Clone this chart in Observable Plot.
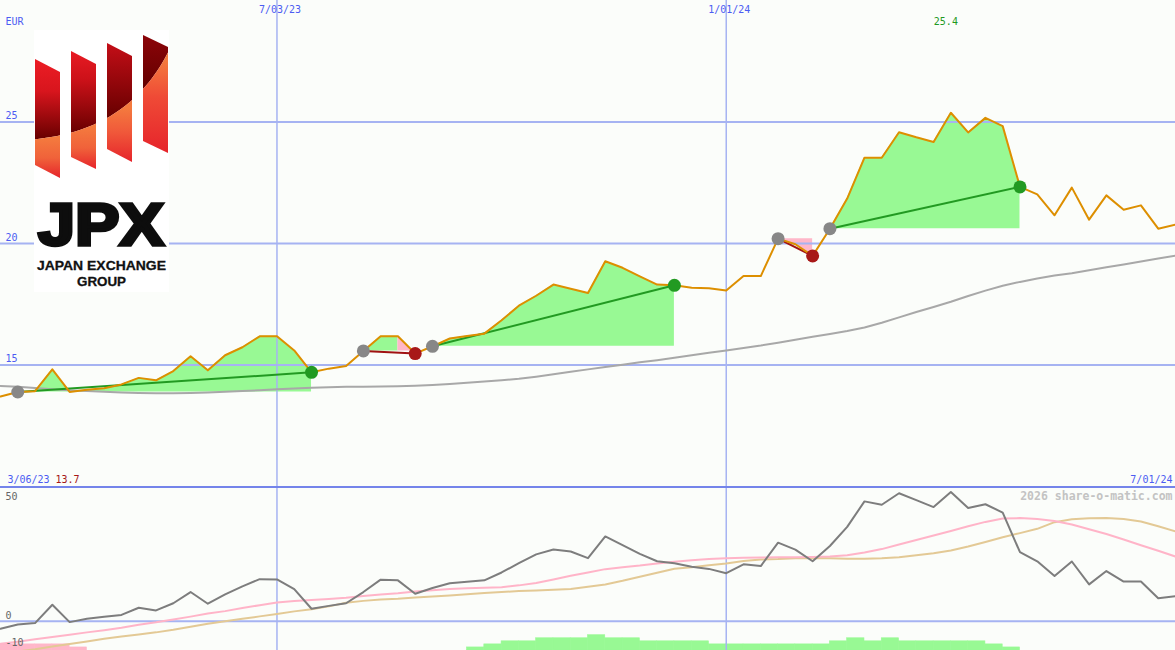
<!DOCTYPE html>
<html><head><meta charset="utf-8">
<script src="https://cdn.jsdelivr.net/npm/d3@7"></script>
<script src="https://cdn.jsdelivr.net/npm/@observablehq/plot@0.6"></script>
<style>
html,body{margin:0;padding:0;background:#fbfdfa;}
#wrap{position:relative;width:1175px;height:650px;background:#fbfdfa;overflow:hidden;}
#sep{height:2px;background:#7484ea;}
#top svg,#bot svg{display:block;}
#logo{position:absolute;left:0;top:0;pointer-events:none;}
</style></head><body>
<div id="wrap">
<div id="top"></div><div id="sep"></div><div id="bot"></div>
<svg id="logo" width="200" height="300" viewBox="0 0 200 300">
<defs>
 <linearGradient id="d1" gradientUnits="userSpaceOnUse" x1="0" y1="59" x2="0" y2="139"><stop offset="0" stop-color="#ec1d25"/><stop offset="0.4" stop-color="#d8151d"/><stop offset="1" stop-color="#680000"/></linearGradient>
 <linearGradient id="d2" gradientUnits="userSpaceOnUse" x1="0" y1="51" x2="0" y2="133"><stop offset="0" stop-color="#e81b23"/><stop offset="0.35" stop-color="#cc1119"/><stop offset="1" stop-color="#680000"/></linearGradient>
 <linearGradient id="d3" gradientUnits="userSpaceOnUse" x1="0" y1="43" x2="0" y2="117"><stop offset="0" stop-color="#c40e17"/><stop offset="1" stop-color="#680000"/></linearGradient>
 <linearGradient id="d4" gradientUnits="userSpaceOnUse" x1="0" y1="35" x2="0" y2="88"><stop offset="0" stop-color="#8c0509"/><stop offset="1" stop-color="#640000"/></linearGradient>
 <linearGradient id="o1" gradientUnits="userSpaceOnUse" x1="0" y1="138" x2="0" y2="178"><stop offset="0" stop-color="#f47a3e"/><stop offset="0.5" stop-color="#f0623a"/><stop offset="1" stop-color="#e6242b"/></linearGradient>
 <linearGradient id="o2" gradientUnits="userSpaceOnUse" x1="0" y1="127" x2="0" y2="169"><stop offset="0" stop-color="#f47a3e"/><stop offset="0.5" stop-color="#f0623a"/><stop offset="1" stop-color="#e6242b"/></linearGradient>
 <linearGradient id="o3" gradientUnits="userSpaceOnUse" x1="0" y1="108" x2="0" y2="162"><stop offset="0" stop-color="#f47a3e"/><stop offset="0.45" stop-color="#f0583a"/><stop offset="1" stop-color="#e6242b"/></linearGradient>
 <linearGradient id="o4" gradientUnits="userSpaceOnUse" x1="0" y1="60" x2="0" y2="153"><stop offset="0" stop-color="#f47a3e"/><stop offset="0.4" stop-color="#ef4a36"/><stop offset="1" stop-color="#e6242b"/></linearGradient>
 <clipPath id="above"><path d="M0,141 C80,141 140,118 175,38 L175,0 L0,0 Z"/></clipPath>
 <clipPath id="below"><path d="M0,141 C80,141 140,118 175,38 L175,200 L0,200 Z"/></clipPath>
</defs>
<rect x="34" y="30" width="135" height="262" fill="#ffffff"/>
<g clip-path="url(#above)">
 <polygon points="35,59 60,72 60,178 35,165" fill="url(#d1)"/>
 <polygon points="71,51 96,64 96,169 71,157" fill="url(#d2)"/>
 <polygon points="107,43 132,56 132,162 107,149" fill="url(#d3)"/>
 <polygon points="143,35 168,47 168,153 143,141" fill="url(#d4)"/>
</g>
<g clip-path="url(#below)">
 <polygon points="35,59 60,72 60,178 35,165" fill="url(#o1)"/>
 <polygon points="71,51 96,64 96,169 71,157" fill="url(#o2)"/>
 <polygon points="107,43 132,56 132,162 107,149" fill="url(#o3)"/>
 <polygon points="143,35 168,47 168,153 143,141" fill="url(#o4)"/>
</g>
<text x="38" y="245" font-family="Liberation Sans, Arial, sans-serif" font-weight="700" font-size="60" fill="#0d0d0d" stroke="#0d0d0d" stroke-width="3.5" stroke-linejoin="miter" textLength="126" lengthAdjust="spacingAndGlyphs">JPX</text>
<text x="37" y="270" font-family="Liberation Sans, Arial, sans-serif" font-weight="700" font-size="13" fill="#111" stroke="#111" stroke-width="0.3" textLength="129" lengthAdjust="spacingAndGlyphs">JAPAN EXCHANGE</text>
<text x="77" y="286" font-family="Liberation Sans, Arial, sans-serif" font-weight="700" font-size="13" fill="#111" stroke="#111" stroke-width="0.3" textLength="49" lengthAdjust="spacingAndGlyphs">GROUP</text>
</svg>
</div>
<script>
// ---- data (weekly, Mondays) ----
const firstWeek = [2023, 2, 13];
const price = [13.70,13.89,13.92,14.82,13.89,13.98,14.04,14.20,14.47,14.37,
  14.75,15.36,14.78,15.40,15.73,16.18,16.18,15.60,14.70,14.85,
  14.96,15.58,16.18,16.18,15.47,15.77,16.09,16.19,16.29,16.84,
  17.44,17.85,18.31,18.14,17.96,19.27,19.00,18.65,18.31,18.28,
  18.18,18.16,18.07,18.66,18.66,20.20,19.97,19.49,20.61,21.85,
  23.53,23.53,24.58,24.37,24.18,25.38,24.57,25.17,24.83,22.33,
  22.02,21.16,22.30,20.98,21.98,21.39,21.57,20.61,20.78];
const movingAvg = [14.14,14.10,14.05,14.00,13.96,13.93,13.90,13.87,13.85,13.84,
  13.84,13.85,13.87,13.90,13.93,13.96,14.00,14.03,14.06,14.08,
  14.10,14.11,14.12,14.13,14.15,14.18,14.22,14.27,14.32,14.37,
  14.43,14.52,14.62,14.72,14.82,14.92,15.01,15.11,15.20,15.30,
  15.40,15.50,15.60,15.70,15.80,15.92,16.04,16.16,16.28,16.40,
  16.54,16.74,16.96,17.18,17.39,17.60,17.84,18.06,18.26,18.42,
  18.56,18.68,18.78,18.90,19.02,19.14,19.26,19.38,19.50];
const momentum = [-3.2,-1.4,-0.8,6.9,-0.4,1.0,1.8,2.6,5.6,4.5,
  7.5,12.2,7.3,11.2,14.6,17.6,17.5,13.4,5.2,6.4,
  7.5,12.2,17.4,17.1,11.5,13.9,15.9,16.5,17.1,20.4,
  24.3,28.0,30.0,29.2,26.4,35.5,31.9,28.2,25.1,24.3,
  22.8,21.9,20.1,23.8,23.1,32.9,30.0,25.1,31.5,39.5,
  50.2,48.8,53.6,50.7,47.8,54.1,47.4,49.0,45.5,28.9,
  25.1,18.9,25.0,15.4,21.0,16.6,16.6,9.6,10.5];
const fastSignal = [-9.5,-8.6,-7.6,-6.6,-5.7,-4.7,-3.8,-2.8,-1.5,-0.5,
  0.7,1.9,3.2,4.2,5.5,6.7,7.8,8.4,8.9,9.3,
  9.8,10.5,11.2,11.7,12.4,13.0,13.5,13.8,14.0,14.2,
  15.0,16.0,17.5,19.0,20.4,21.8,22.6,23.3,24.2,24.9,
  25.5,26.0,26.4,26.6,26.7,26.8,26.8,26.9,27.1,27.6,
  28.8,30.2,32.1,34.0,35.9,37.8,39.8,41.6,43.0,43.2,
  42.8,42.0,40.5,38.5,36.5,34.2,31.8,29.5,27.1];
const slowSignal = [-13.7,-12.7,-11.8,-10.6,-9.6,-8.5,-7.4,-6.4,-5.6,-4.7,
  -3.6,-2.3,-1.1,0.0,1.0,2.0,3.0,4.1,5.0,6.2,
  7.7,8.5,9.1,9.4,9.9,10.3,10.8,11.3,11.8,12.2,
  12.6,12.9,13.2,13.5,14.4,15.4,16.9,18.6,20.3,22.0,
  22.6,23.4,24.2,25.2,25.8,26.0,26.4,26.5,26.4,26.2,
  26.2,26.4,26.8,27.6,28.5,29.6,31.3,33.2,35.2,36.9,
  38.7,41.5,42.7,43.1,43.2,42.8,41.8,39.8,37.6];
const volumeLevel = [-2,-2,-2,-2,-1,0,0,0,0,0,
  0,0,0,0,0,0,0,0,0,0,
  0,0,0,0,0,0,0,1,2,3,
  3,4,4,4,5,4,4,3,3,3,
  3,2,2,2,2,2,2,2,3,4,
  3,4,3,3,3,3,3,2,1,0,
  0,0,0,0,0,0,0,0,0];
const tradeEntry = [1, 21, 25, 45, 48];
const tradeExit  = [18, 24, 39, 47, 59];
const priceTicks = [15, 20, 25];
const oscTicks = [50, 0];
const oscLowTick = -10;
const dateTicks = ["2023-07-03", "2024-01-01"];
const startLabel = "3/06/23";
const currency = "EUR";
const watermark = "2026 share-o-matic.com";

// ---- derived tables ----
const dates = price.map((_, i) => new Date(Date.UTC(firstWeek[0], firstWeek[1], firstWeek[2] + 7 * i)));
const rows = price.map((p, i) => ({date: dates[i], next: dates[i + 1] || dates[i], price: p, avg: movingAvg[i], mom: momentum[i], fast: fastSignal[i], slow: slowSignal[i], vol: volumeLevel[i]}));
const xTicks = dateTicks.map(s => new Date(s + "T00:00:00Z"));
const fmt = d3.utcFormat("%-m/%d/%y");
// runs of weeks within each trade, green while the week ends at/above the entry level, pink otherwise
const fillRows = [];
tradeEntry.forEach((e, t) => {
  const base = price[e];
  let run = -1, prevLoss = null;
  for (let k = e; k < tradeExit[t]; k++) {
    const loss = price[k + 1] < base;
    if (loss !== prevLoss) { run++; prevLoss = loss; fillRows.push({id: t * 100 + run, loss, date: dates[k], base, p: price[k]}); }
    fillRows.push({id: t * 100 + run, loss, date: dates[k + 1], base, p: price[k + 1]});
  }
});
const trades = tradeEntry.map((e, t) => ({d1: dates[e], p1: price[e], d2: dates[tradeExit[t]], p2: price[tradeExit[t]], win: price[tradeExit[t]] >= price[e]}));
const maxRow = rows.reduce((a, b) => b.price > a.price ? b : a);

const xScale = {type: "utc", domain: [dates[0], dates[dates.length - 1]], axis: null};
const grid = "#a6b3f2";
const blue = "#4c5cf2";
const font = {fontFamily: "DejaVu Sans Mono, monospace", fontSize: "10px", background: "transparent"};

const topPlot = Plot.plot({
  width: 1175, height: 486, margin: 0,
  style: font,
  x: xScale,
  y: {domain: [10, 30], axis: null},
  marks: [
    Plot.areaY(fillRows.filter(d => !d.loss), {x: "date", y1: "base", y2: "p", z: "id", fill: "#98f994"}),
    Plot.areaY(fillRows.filter(d => d.loss), {x: "date", y1: "base", y2: "p", z: "id", fill: "#ffb7c9"}),
    Plot.ruleY(priceTicks, {stroke: grid, strokeWidth: 2}),
    Plot.ruleX(xTicks, {stroke: grid, strokeWidth: 1.5}),
    Plot.line(rows, {x: "date", y: "avg", stroke: "#a8a8a8", strokeWidth: 2}),
    Plot.link(trades.filter(d => d.win), {x1: "d1", y1: "p1", x2: "d2", y2: "p2", stroke: "#229a22", strokeWidth: 2}),
    Plot.link(trades.filter(d => !d.win), {x1: "d1", y1: "p1", x2: "d2", y2: "p2", stroke: "#a01212", strokeWidth: 2}),
    Plot.line(rows, {x: "date", y: "price", stroke: "#dd8f00", strokeWidth: 2}),
    Plot.dot(trades, {x: "d1", y: "p1", r: 6.5, fill: "#878787"}),
    Plot.dot(trades.filter(d => d.win), {x: "d2", y: "p2", r: 6.5, fill: "#229a22"}),
    Plot.dot(trades.filter(d => !d.win), {x: "d2", y: "p2", r: 6.5, fill: "#a81818"}),
    Plot.text([currency], {frameAnchor: "top-left", dx: 5, dy: 21, text: d => d, textAnchor: "start", lineAnchor: "middle", fill: blue}),
    Plot.text(priceTicks, {frameAnchor: "left", y: d => d, text: d => String(d), dx: 5, dy: -6, textAnchor: "start", lineAnchor: "middle", fill: blue}),
    Plot.text(xTicks, {x: d => d, frameAnchor: "top", dy: 9, dx: 3, text: d => fmt(d), lineAnchor: "middle", fill: blue}),
    Plot.text([startLabel], {frameAnchor: "bottom-left", dx: 7, dy: -6.5, text: d => d, textAnchor: "start", lineAnchor: "middle", fill: blue}),
    Plot.text([price[0]], {frameAnchor: "bottom-left", dx: 55, dy: -6.5, text: d => d.toFixed(1), textAnchor: "start", lineAnchor: "middle", fill: "#a51616"}),
    Plot.text([dates[dates.length - 1]], {frameAnchor: "bottom-right", dx: -3, dy: -6.5, text: d => fmt(d), textAnchor: "end", lineAnchor: "middle", fill: blue}),
    Plot.text([maxRow], {x: "date", frameAnchor: "top", dy: 21, dx: -5, text: d => d.price.toFixed(1), lineAnchor: "middle", fill: "#1f9a1f"})
  ]
});

const oscMin = -12.3, oscMax = 55.6, volUnit = 1.28;
const botPlot = Plot.plot({
  width: 1175, height: 162, margin: 0,
  style: font,
  x: xScale,
  y: {domain: [oscMin, oscMax], axis: null},
  marks: [
    Plot.rectY(rows.filter(d => d.vol > 0), {x1: "date", x2: "next", y1: oscMin, y2: d => oscMin + d.vol * volUnit, fill: "#98f994", stroke: "#98f994", strokeWidth: 0.6}),
    Plot.rectY(rows.filter(d => d.vol < 0), {x1: "date", x2: "next", y1: oscMin, y2: d => oscMin - d.vol * volUnit, fill: "#ffb7c9", stroke: "#ffb7c9", strokeWidth: 0.6}),
    Plot.ruleY([0], {stroke: grid, strokeWidth: 2}),
    Plot.ruleX(xTicks, {stroke: grid, strokeWidth: 1.5}),
    Plot.line(rows, {x: "date", y: "slow", stroke: "#e3c995", strokeWidth: 2}),
    Plot.line(rows, {x: "date", y: "fast", stroke: "#ffb4c8", strokeWidth: 2}),
    Plot.line(rows, {x: "date", y: "mom", stroke: "#7d7d7d", strokeWidth: 2}),
    Plot.text(oscTicks, {frameAnchor: "left", y: d => d, text: d => String(d), dx: 5, dy: -5.5, textAnchor: "start", lineAnchor: "middle", fill: "#666"}),
    Plot.text([oscLowTick], {frameAnchor: "left", y: d => d, text: d => String(d), dx: 5, dy: -2, textAnchor: "start", lineAnchor: "middle", fill: "#666"}),
    Plot.text([watermark], {frameAnchor: "top-right", dx: -3, dy: 8, text: d => d, textAnchor: "end", lineAnchor: "middle", fill: "#c3c3c3", fontWeight: "bold", fontSize: 11.5})
  ]
});

document.getElementById("top").appendChild(topPlot);
document.getElementById("bot").appendChild(botPlot);
</script>
</body></html>
